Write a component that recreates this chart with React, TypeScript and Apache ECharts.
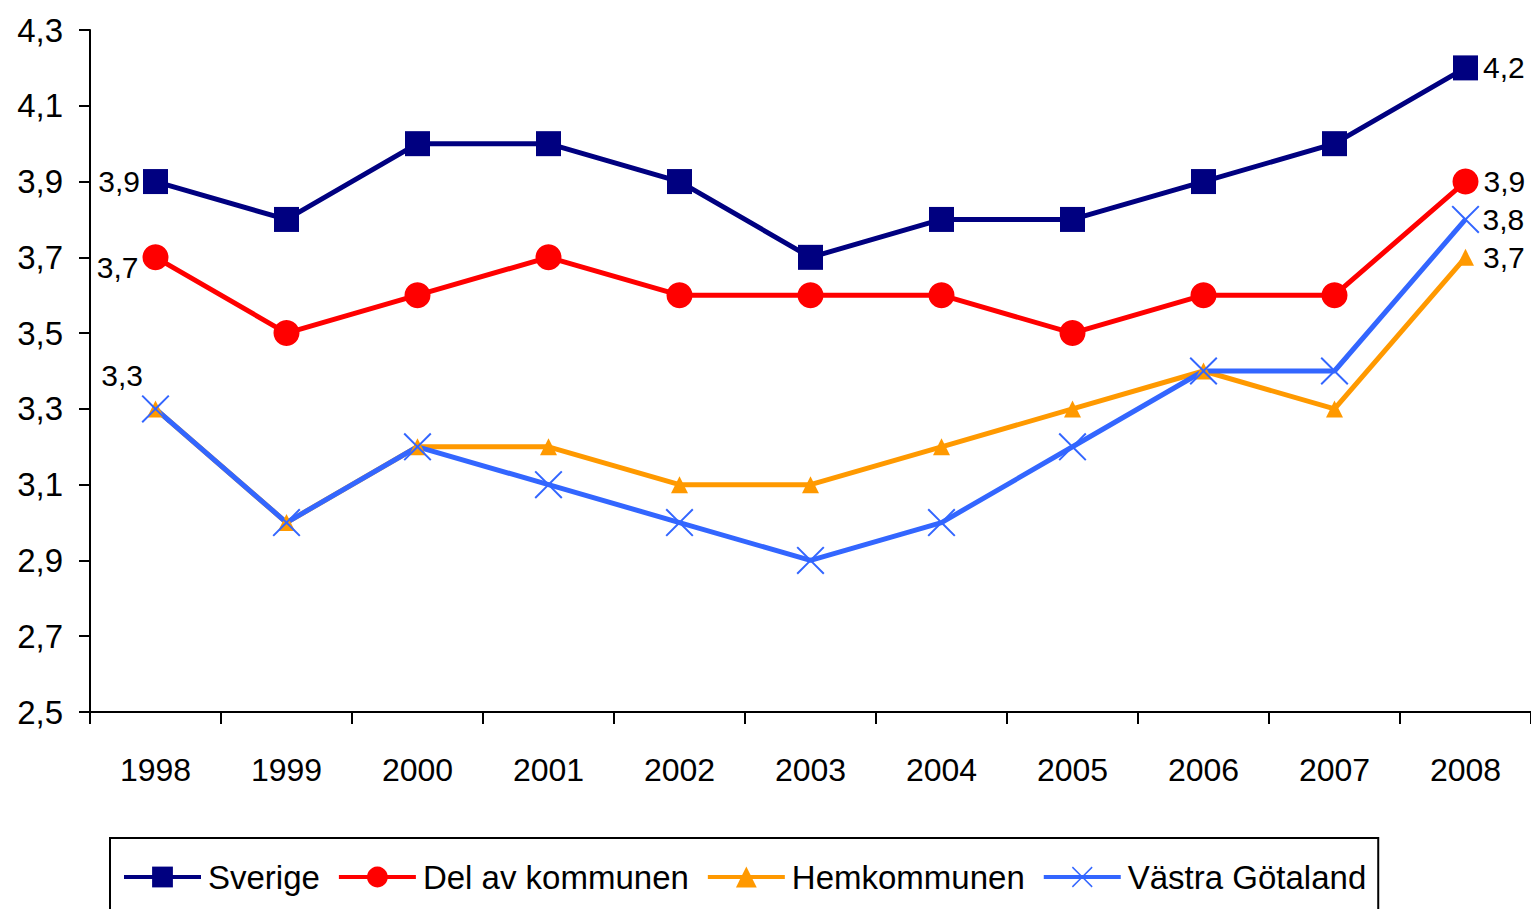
import React, { useEffect, useRef } from 'react';
import * as echarts from 'echarts';

const years = ['1998', '1999', '2000', '2001', '2002', '2003', '2004', '2005', '2006', '2007', '2008'];
const sverige = [3.9, 3.8, 4.0, 4.0, 3.9, 3.7, 3.8, 3.8, 3.9, 4.0, 4.2];
const delAvKommunen = [3.7, 3.5, 3.6, 3.7, 3.6, 3.6, 3.6, 3.5, 3.6, 3.6, 3.9];
const hemkommunen = [3.3, 3.0, 3.2, 3.2, 3.1, 3.1, 3.2, 3.3, 3.4, 3.3, 3.7];
const vastraGotaland = [3.3, 3.0, 3.2, 3.1, 3.0, 2.9, 3.0, 3.2, 3.4, 3.4, 3.8];
const yTicks = [2.5, 2.7, 2.9, 3.1, 3.3, 3.5, 3.7, 3.9, 4.1, 4.3];

const FONT = "'Liberation Sans', Arial, sans-serif";
const X_PATH =
  'path://M0,5 L5,0 L50,45 L95,0 L100,5 L55,50 L100,95 L95,100 L50,55 L5,100 L0,95 L45,50 Z';

const fmt = (v: number) => v.toFixed(1).replace('.', ',');

function withLabels(values: number[], labels: Record<number, any>) {
  return values.map((v, i) =>
    labels[i]
      ? {
          value: v,
          label: {
            show: true,
            color: '#000',
            fontSize: 30,
            fontFamily: FONT,
            formatter: (p: any) => fmt(p.value),
            ...labels[i],
          },
        }
      : v
  );
}

export default function App() {
  const ref = useRef<HTMLDivElement>(null);
  useEffect(() => {
    document.body.style.margin = '0';
    const chart = echarts.init(ref.current!, null, { renderer: 'svg' });
    const last = years.length - 1;
    chart.setOption({
      animation: false,
      backgroundColor: '#fff',
      grid: { left: 90, right: 0, top: 30, bottom: 197 },
      legend: {
        left: 110,
        top: 838,
        padding: [19, 12, 40, 12],
        borderColor: '#000',
        borderWidth: 2,
        itemWidth: 77,
        itemHeight: 26,
        itemGap: 17,
        lineStyle: { width: 4 },
        textStyle: { fontSize: 33, fontFamily: FONT, color: '#000', lineHeight: 40, padding: [0, 0, 0, 2] },
        data: ['Sverige', 'Del av kommunen', 'Hemkommunen', 'Västra Götaland'],
      },
      xAxis: {
        type: 'category',
        data: years,
        boundaryGap: true,
        axisLine: { lineStyle: { color: '#000', width: 2 } },
        axisTick: { show: true, length: 12, interval: 0, lineStyle: { color: '#000', width: 2 } },
        axisLabel: { margin: 42, fontSize: 32, fontFamily: FONT, color: '#000', interval: 0 },
      },
      yAxis: {
        type: 'value',
        min: 2.5,
        max: 4.3,
        axisLine: { show: true, lineStyle: { color: '#000', width: 2 } },
        axisTick: { show: true, length: 11, customValues: yTicks, lineStyle: { color: '#000', width: 2 } },
        axisLabel: {
          margin: 27,
          fontSize: 33,
          fontFamily: FONT,
          color: '#000',
          customValues: yTicks,
          formatter: (v: number) => fmt(v),
        },
        splitLine: { show: false },
      },
      series: [
        {
          name: 'Sverige',
          type: 'line',
          symbol: 'rect',
          symbolSize: 25,
          itemStyle: { color: '#000080' },
          lineStyle: { color: '#000080', width: 5 },
          data: withLabels(sverige, {
            0: { position: 'left', distance: 3 },
            [last]: { position: 'right', distance: 5 },
          }),
        },
        {
          name: 'Del av kommunen',
          type: 'line',
          symbol: 'circle',
          symbolSize: 26,
          itemStyle: { color: '#FF0000' },
          lineStyle: { color: '#FF0000', width: 5 },
          data: withLabels(delAvKommunen, {
            0: { position: 'left', distance: 4, offset: [0, 10] },
            [last]: { position: 'right', distance: 5 },
          }),
        },
        {
          name: 'Hemkommunen',
          type: 'line',
          symbol: 'triangle',
          symbolSize: 17,
          itemStyle: { color: '#FF9900' },
          lineStyle: { color: '#FF9900', width: 5 },
          data: withLabels(hemkommunen, {
            0: { position: 'left', distance: 4, offset: [0, -33] },
            [last]: { position: 'right', distance: 9 },
          }),
        },
        {
          name: 'Västra Götaland',
          type: 'line',
          symbol: X_PATH,
          symbolSize: 28,
          itemStyle: { color: '#3366FF' },
          lineStyle: { color: '#3366FF', width: 5 },
          data: withLabels(vastraGotaland, {
            [last]: { position: 'right', distance: 3 },
          }),
        },
      ],
    });
    return () => chart.dispose();
  }, []);
  return <div ref={ref} style={{ width: 1531, height: 909 }} />;
}
